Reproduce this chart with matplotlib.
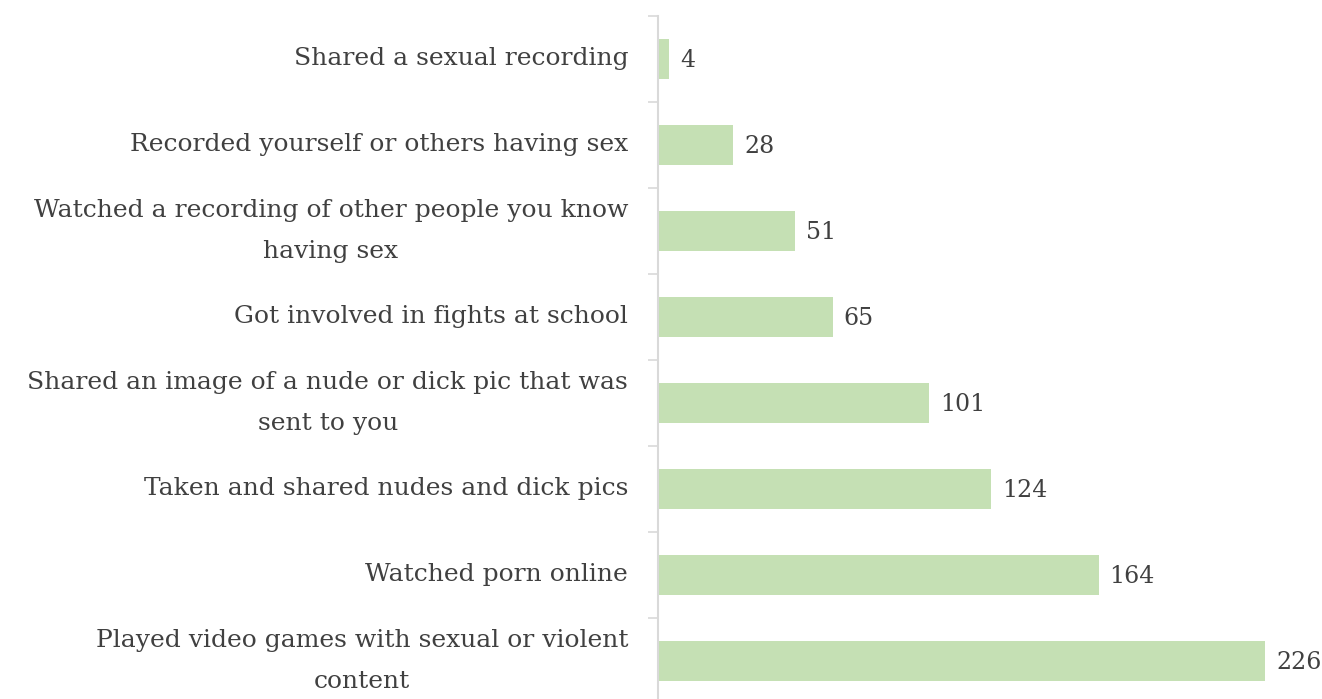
import matplotlib
matplotlib.use("Agg")
import matplotlib.pyplot as plt

# Behaviours reported, top to bottom as shown
categories = [
    "Shared a sexual recording",
    "Recorded yourself or others having sex",
    "Watched a recording of other people you know\nhaving sex",
    "Got involved in fights at school",
    "Shared an image of a nude or dick pic that was\nsent to you",
    "Taken and shared nudes and dick pics",
    "Watched porn online",
    "Played video games with sexual or violent\ncontent",
]
counts = [4, 28, 51, 65, 101, 124, 164, 226]

bar_color = "#C5E0B4"
text_color = "#404040"
axis_color = "#D9D9D9"

plt.rcParams["font.family"] = ["DejaVu Serif"]

fig = plt.figure(figsize=(13.22, 6.99), dpi=100)
W, H = 1322, 699
# plot area in pixels: axis at x=658, top at y=16, eight rows of 86 px
x0, y0_top, row_h = 658, 16, 86
ax = fig.add_axes([x0 / W, 1 - (y0_top + 8 * row_h) / H, (W - x0) / W, 8 * row_h / H])

y = list(range(len(categories)))
ax.barh(y, counts, height=0.476, color=bar_color, edgecolor="none")
ax.set_ylim(len(categories) - 0.5, -0.5)
ax.set_xlim(0, (W - x0) / 2.686)

for yi, v in zip(y, counts):
    ax.annotate(str(v), (v, yi), xytext=(8, -1), textcoords="offset points",
                ha="left", va="center", fontsize=17, color=text_color)

ax.set_yticks(y)
ax.set_yticklabels(categories, fontsize=18, color=text_color,
                   multialignment="center", linespacing=1.95)
for lbl in ax.get_yticklabels():
    lbl.set_verticalalignment("center")
ax.tick_params(axis="y", length=0, pad=21.5)
# boundary ticks between categories
ax.set_yticks([i - 0.5 for i in range(len(categories) + 1)], minor=True)
ax.tick_params(axis="y", which="minor", length=7, width=1.2, color=axis_color)

ax.set_xticks([])
for side in ["top", "right", "bottom"]:
    ax.spines[side].set_visible(False)
ax.spines["left"].set_color(axis_color)
ax.spines["left"].set_linewidth(1.5)

fig.savefig("out.png", dpi=100)
